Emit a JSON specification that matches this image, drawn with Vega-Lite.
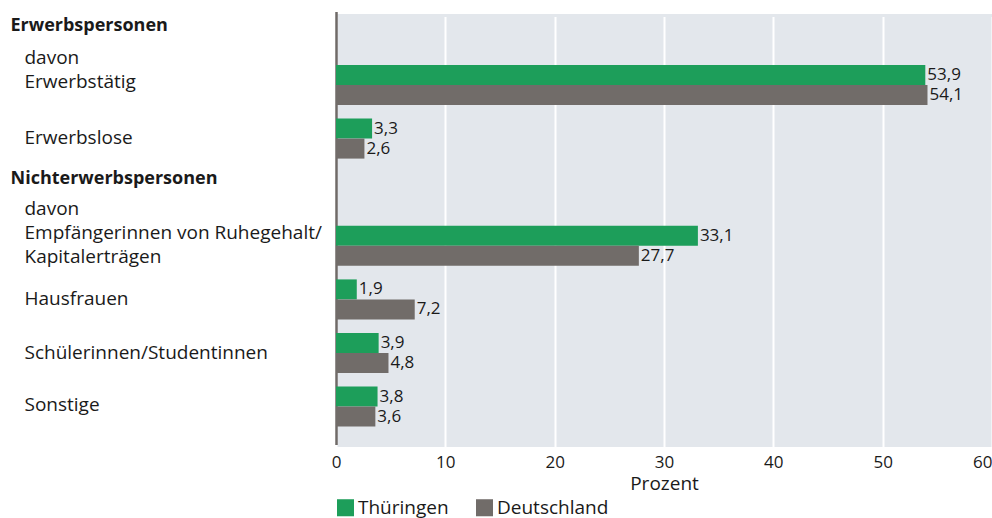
{
  "$schema": "https://vega.github.io/schema/vega-lite/v6.json",
  "width": 656,
  "height": 433,
  "autosize": "none",
  "padding": {"left": 336, "top": 14, "right": 0, "bottom": 71},
  "config": {
    "locale": {"number": {"decimal": ",", "thousands": ".", "grouping": [3], "currency": ["", " €"]}},
    "view": {"fill": "#e3e7ec", "stroke": null},
    "font": "Open Sans",
    "text": {"font": "Open Sans"}
  },
  "data": {
    "values": [
      {"kategorie": "davon|Erwerbstätig", "region": "Thüringen", "wert": 53.9},
      {"kategorie": "davon|Erwerbstätig", "region": "Deutschland", "wert": 54.1},
      {"kategorie": "Erwerbslose", "region": "Thüringen", "wert": 3.3},
      {"kategorie": "Erwerbslose", "region": "Deutschland", "wert": 2.6},
      {"kategorie": "davon|Empfängerinnen von Ruhegehalt/|Kapitalerträgen", "region": "Thüringen", "wert": 33.1},
      {"kategorie": "davon|Empfängerinnen von Ruhegehalt/|Kapitalerträgen", "region": "Deutschland", "wert": 27.7},
      {"kategorie": "Hausfrauen", "region": "Thüringen", "wert": 1.9},
      {"kategorie": "Hausfrauen", "region": "Deutschland", "wert": 7.2},
      {"kategorie": "Schülerinnen/Studentinnen", "region": "Thüringen", "wert": 3.9},
      {"kategorie": "Schülerinnen/Studentinnen", "region": "Deutschland", "wert": 4.8},
      {"kategorie": "Sonstige", "region": "Thüringen", "wert": 3.8},
      {"kategorie": "Sonstige", "region": "Deutschland", "wert": 3.6}
    ]
  },
  "encoding": {
    "y": {
      "field": "kategorie",
      "type": "nominal",
      "sort": null,
      "scale": {
        "domain": ["Erwerbspersonen", "davon|Erwerbstätig", "Erwerbslose", "Nichterwerbspersonen", "davon|Empfängerinnen von Ruhegehalt/|Kapitalerträgen", "Hausfrauen", "Schülerinnen/Studentinnen", "Sonstige"],
        "range": [-2.6, 430.4],
        "paddingInner": 0.254,
        "paddingOuter": 0.166,
        "align": 0
      },
      "axis": {
        "title": null,
        "ticks": false,
        "domainColor": "#6f6a67",
        "domainWidth": 2.5,
        "labelAlign": "left",
        "labelBaseline": "middle",
        "labelExpr": "split(datum.value, '|')",
        "labelFontSize": {"condition": {"test": "datum.value == 'Erwerbspersonen' || datum.value == 'Nichterwerbspersonen'", "value": 18}, "value": 19},
        "labelColor": "#1a1a1a",
        "labelLineHeight": 24,
        "labelLimit": 400,
        "labelPadding": {"condition": {"test": "datum.value == 'Erwerbspersonen' || datum.value == 'Nichterwerbspersonen'", "value": 326}, "value": 312},
        "labelFontWeight": {"condition": {"test": "datum.value == 'Erwerbspersonen' || datum.value == 'Nichterwerbspersonen'", "value": "bold"}, "value": "normal"},
        "labelOffset": {"condition": [
          {"test": "datum.value == 'Erwerbspersonen'", "value": -5},
          {"test": "datum.value == 'Nichterwerbspersonen'", "value": -13},
          {"test": "datum.value == 'davon|Erwerbstätig'", "value": -27},
          {"test": "datum.value == 'davon|Empfängerinnen von Ruhegehalt/|Kapitalerträgen'", "value": -37},
          {"test": "datum.value == 'Erwerbslose'", "value": -1},
          {"test": "datum.value == 'Sonstige'", "value": -2}
        ], "value": 0}
      }
    },
    "yOffset": {
      "field": "region",
      "type": "nominal",
      "sort": ["Thüringen", "Deutschland"],
      "scale": {"paddingInner": 0, "paddingOuter": 0}
    }
  },
  "layer": [
    {
      "mark": {"type": "bar"},
      "encoding": {
        "x": {
          "field": "wert",
          "type": "quantitative",
          "scale": {"domain": [0, 60], "nice": false},
          "axis": {
            "title": "Prozent",
            "values": [0, 10, 20, 30, 40, 50, 60],
            "domain": false,
            "ticks": false,
            "grid": true,
            "gridColor": "#ffffff",
            "gridWidth": 2,
            "labelFontSize": 17,
            "labelColor": "#1a1a1a",
            "labelPadding": 7,
            "labelFlush": false,
            "labelAlign": {"condition": {"test": "datum.value == 60", "value": "right"}, "value": "center"},
            "titleFontSize": 19,
            "titleFontWeight": "normal",
            "titleColor": "#1a1a1a",
            "titlePadding": 4
          }
        },
        "color": {
          "field": "region",
          "type": "nominal",
          "sort": ["Thüringen", "Deutschland"],
          "scale": {"domain": ["Thüringen", "Deutschland"], "range": ["#1d9e5a", "#716c69"]},
          "legend": {
            "orient": "bottom",
            "direction": "horizontal",
            "title": null,
            "symbolType": "square",
            "symbolSize": 290,
            "symbolStrokeWidth": 0,
            "symbolOpacity": 1,
            "labelFontSize": 19,
            "labelColor": "#1a1a1a",
            "columnPadding": 26,
            "labelOffset": 3,
            "offset": 5
          }
        }
      }
    },
    {
      "mark": {"type": "text", "align": "left", "baseline": "middle", "dx": 2, "fontSize": 17, "color": "#1a1a1a"},
      "encoding": {
        "x": {"field": "wert", "type": "quantitative"},
        "text": {"field": "wert", "type": "quantitative", "format": ".1f"}
      }
    }
  ]
}
